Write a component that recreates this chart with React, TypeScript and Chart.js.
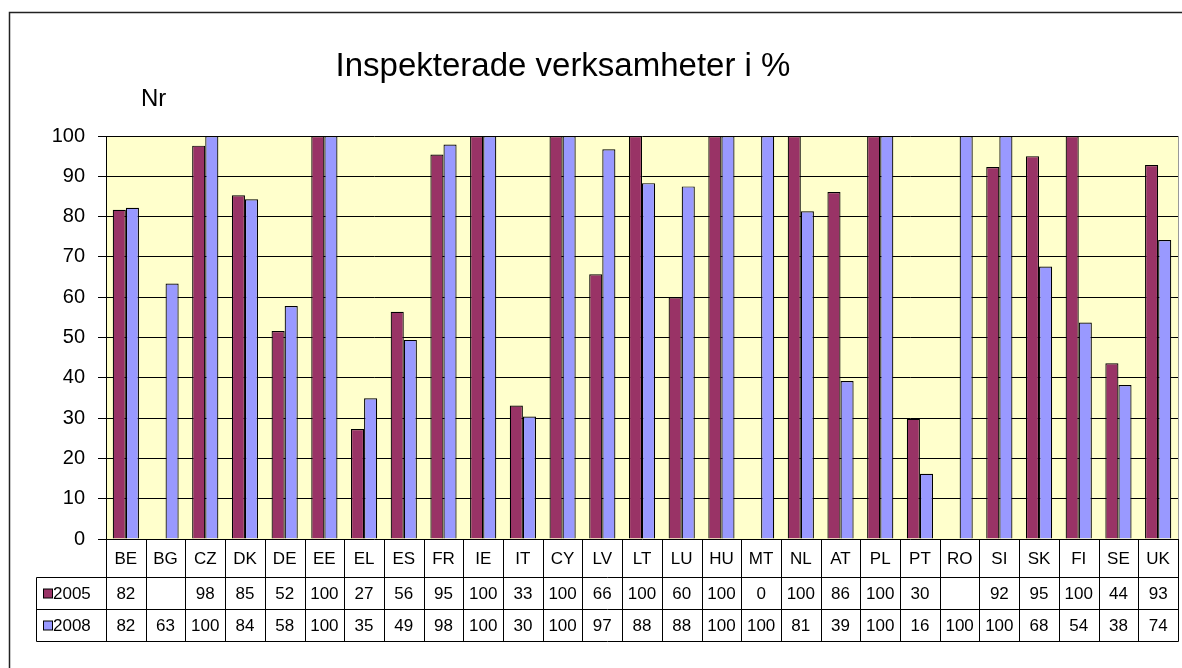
import React, { useEffect, useRef } from "react";
import { Chart, registerables } from "chart.js";

Chart.register(...registerables);

const categories = ["BE","BG","CZ","DK","DE","EE","EL","ES","FR","IE","IT","CY","LV","LT","LU","HU","MT","NL","AT","PL","PT","RO","SI","SK","FI","SE","UK"];
const series2005: (number | null)[] = [81.7,null,97.6,85.3,51.6,100,27.3,56.4,95.4,100,33.1,100,65.7,100,60,100,0,100,86.1,100,29.8,null,92.3,95,100,43.6,92.8];
const series2008: (number | null)[] = [82.2,63.4,100,84.3,57.8,100,34.9,49.4,97.9,100,30.4,100,96.7,88.3,87.5,100,100,81.3,39.2,100,16.2,100,100,67.6,53.7,38.2,74.2];
const seriesNames = ["2005", "2008"];
const yTicks = [0,10,20,30,40,50,60,70,80,90,100];
const title = "Inspekterade verksamheter i %";
const yLabel = "Nr";

const COL05 = "#993366";
const COL08 = "#9999FF";
const FONT = 'Arial, "Liberation Sans", sans-serif';

export default function App() {
  const ref = useRef<HTMLCanvasElement | null>(null);
  useEffect(() => {
    const canvas = ref.current!;
    const deco = {
      id: "deco",
      beforeDraw(chart: any) {
        const ctx = chart.ctx;
        const a = chart.chartArea;
        ctx.save();
        ctx.fillStyle = "#fff";
        ctx.fillRect(0, 0, chart.width, chart.height);
        ctx.strokeStyle = "#222";
        ctx.lineWidth = 1.5;
        ctx.beginPath();
        ctx.moveTo(9.5, 700);
        ctx.lineTo(9.5, 12.5);
        ctx.lineTo(1200, 12.5);
        ctx.stroke();
        ctx.fillStyle = "#FFFFCC";
        ctx.fillRect(a.left, a.top, a.right - a.left, a.bottom - a.top);
        ctx.restore();
      },
      afterDraw(chart: any) {
        const ctx = chart.ctx;
        const a = chart.chartArea;
        const xs = chart.scales.x;
        const n = categories.length;
        const w = (a.right - a.left) / n;
        ctx.save();
        ctx.strokeStyle = "#999";
        ctx.lineWidth = 1;
        ctx.beginPath();
        ctx.moveTo(a.right + 0.5, a.top);
        ctx.lineTo(a.right + 0.5, a.bottom);
        ctx.stroke();
        // title
        ctx.fillStyle = "#000";
        ctx.font = `33px ${FONT}`;
        ctx.textAlign = "center";
        ctx.textBaseline = "alphabetic";
        ctx.fillText(title, 563, 76);
        ctx.font = `24px ${FONT}`;
        ctx.textAlign = "left";
        ctx.fillText(yLabel, 141, 106);
        // table
        const r0 = a.bottom;
        const r1 = 577.5;
        const r2 = 609.5;
        const r3 = 641.5;
        const legL = 36.5;
        ctx.strokeStyle = "#000";
        ctx.lineWidth = 1;
        ctx.beginPath();
        for (let k = 0; k <= n; k++) {
          const x = Math.round(a.left + k * w) + 0.5;
          ctx.moveTo(x, r0);
          ctx.lineTo(x, r3);
        }
        ctx.moveTo(legL, r1); ctx.lineTo(a.right + 0.5, r1);
        ctx.moveTo(legL, r2); ctx.lineTo(a.right + 0.5, r2);
        ctx.moveTo(legL, r3); ctx.lineTo(a.right + 0.5, r3);
        ctx.moveTo(legL, r1); ctx.lineTo(legL, r3);
        ctx.stroke();
        ctx.font = `17px ${FONT}`;
        ctx.textBaseline = "middle";
        ctx.textAlign = "center";
        ctx.fillStyle = "#000";
        categories.forEach((c, i) => {
          const cx = xs.getPixelForValue(i);
          ctx.fillText(c, cx, (r0 + r1) / 2 + 1);
          const v5 = series2005[i];
          const v8 = series2008[i];
          if (v5 !== null) ctx.fillText(String(Math.round(v5)), cx, (r1 + r2) / 2 + 1);
          if (v8 !== null) ctx.fillText(String(Math.round(v8)), cx, (r2 + r3) / 2 + 1);
        });
        const keys = [[COL05, seriesNames[0], (r1 + r2) / 2], [COL08, seriesNames[1], (r2 + r3) / 2]] as const;
        keys.forEach(([col, name, cy]) => {
          ctx.fillStyle = col;
          ctx.fillRect(43.5, cy - 4.5, 9, 9);
          ctx.strokeStyle = "#000";
          ctx.strokeRect(43.5, cy - 4.5, 9, 9);
          ctx.fillStyle = "#000";
          ctx.textAlign = "left";
          ctx.fillText(name, 53, cy + 1);
        });
        ctx.restore();
      },
    };
    const chart = new Chart(canvas, {
      type: "bar",
      data: {
        labels: categories,
        datasets: [
          { label: seriesNames[0], data: series2005 as any, backgroundColor: COL05, borderColor: "#000", borderWidth: 1.2 },
          { label: seriesNames[1], data: series2008 as any, backgroundColor: COL08, borderColor: "#000", borderWidth: 1.2 },
        ],
      },
      options: {
        responsive: false,
        animation: false,
        layout: { padding: { top: 136, bottom: 129, left: 0, right: 4 } },
        datasets: { bar: { categoryPercentage: 0.66, barPercentage: 1 } },
        plugins: { legend: { display: false }, tooltip: { enabled: false }, title: { display: false } },
        scales: {
          x: { display: false },
          y: {
            min: 0,
            max: 100,
            afterFit(scale: any) { scale.width = 106; },
            afterBuildTicks(scale: any) { scale.ticks = yTicks.map((v) => ({ value: v })); },
            ticks: { color: "#000", font: { family: FONT, size: 20 }, padding: 13 },
            grid: { color: "#000", lineWidth: 1, tickLength: 8, drawOnChartArea: true },
            border: { display: true, color: "#000" },
          },
        },
      },
      plugins: [deco],
    });
    return () => chart.destroy();
  }, []);
  return (
    <div style={{ position: "fixed", left: 0, top: 0, width: 1182, height: 668, background: "#fff" }}>
      <canvas ref={ref} width={1182} height={668} style={{ display: "block" }} />
    </div>
  );
}
